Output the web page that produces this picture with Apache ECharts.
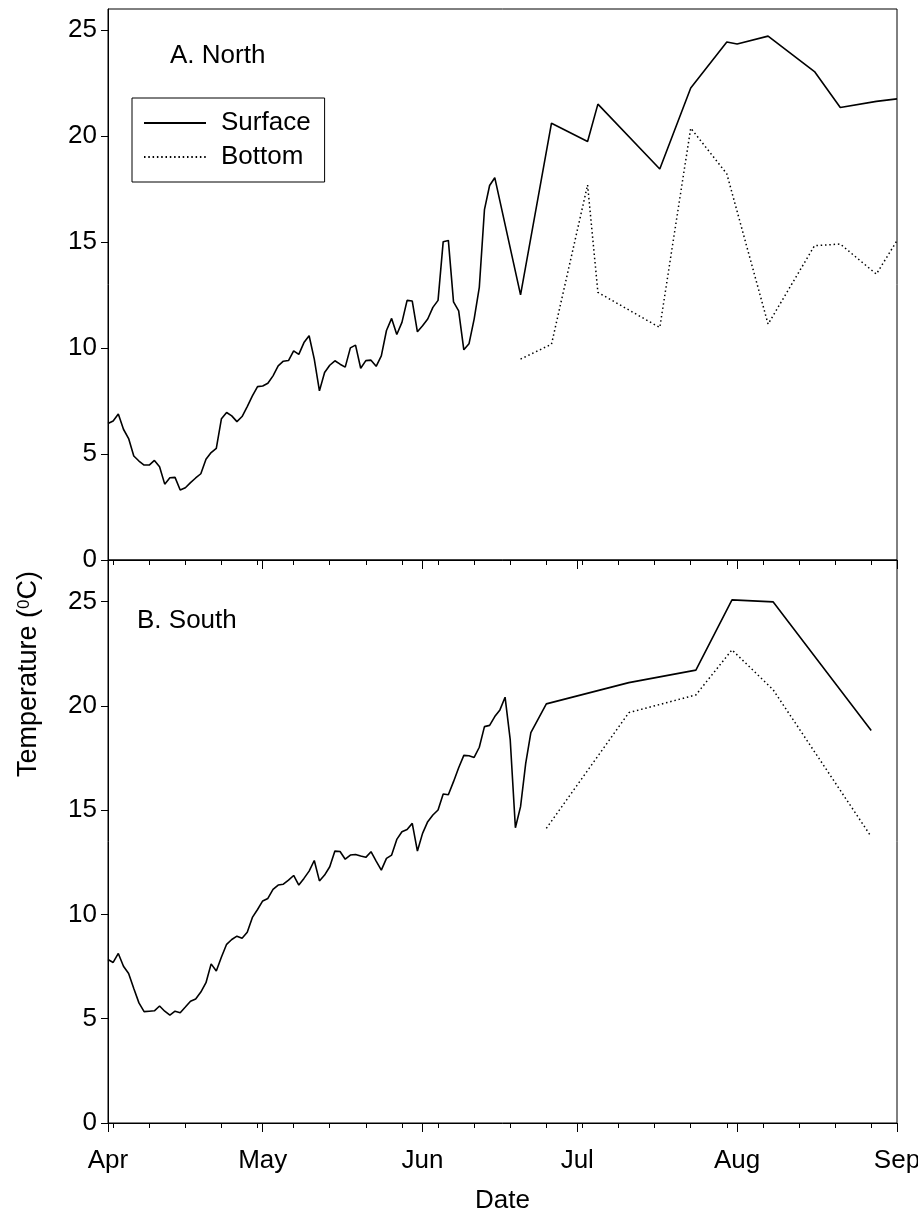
<!DOCTYPE html>
<html>
<head>
<meta charset="utf-8">
<title>Surface and bottom water temperature, North and South</title>
<script src="https://cdn.jsdelivr.net/npm/echarts@6/dist/echarts.min.js"></script>
<style>
  html, body { margin: 0; padding: 0; background: #fff; }
  #chart { width: 918px; height: 1220px; }
</style>
</head>
<body>
<div id="chart"></div>
<script>
// Day numbers count from 1 April (day 0) to 1 September (day 153).
const monthDays = [0, 30, 61, 91, 122, 153];
const monthLabels = ['Apr', 'May', 'Jun', 'Jul', 'Aug', 'Sep'];
const weekDays = [1, 8, 15, 22, 29, 36, 43, 50, 57, 64, 71, 78, 85, 92, 99, 106, 113, 120, 127, 134, 141, 148];
const tempTicks = [0, 5, 10, 15, 20, 25];

// A. North
const northSurfaceDays = [
  0, 1, 2, 3, 4, 5, 6, 7, 8, 9, 10, 11, 12, 13, 14, 15, 16, 17, 18, 19,
  20, 21, 22, 23, 24, 25, 26, 27, 28, 29, 30, 31, 32, 33, 34, 35, 36, 37, 38, 39,
  40, 41, 42, 43, 44, 45, 46, 47, 48, 49, 50, 51, 52, 53, 54, 55, 56, 57, 58, 59,
  60, 61, 62, 63, 64, 65, 66, 67, 68, 69, 70, 71, 72, 73, 74, 75,
  80, 86, 93, 95, 107, 113, 120, 122, 128, 137, 142, 149, 153
];
const northSurfaceTemp = [
  6.44, 6.56, 6.89, 6.17, 5.73, 4.91, 4.67, 4.48, 4.48, 4.70, 4.40, 3.58, 3.88, 3.90, 3.30, 3.41, 3.65, 3.87, 4.07, 4.75,
  5.07, 5.27, 6.67, 6.96, 6.80, 6.53, 6.77, 7.24, 7.74, 8.18, 8.21, 8.34, 8.69, 9.16, 9.38, 9.41, 9.87, 9.70, 10.26, 10.58,
  9.48, 7.98, 8.85, 9.19, 9.40, 9.24, 9.10, 10.01, 10.14, 9.05, 9.41, 9.43, 9.14, 9.63, 10.83, 11.40, 10.64, 11.21, 12.25, 12.22,
  10.77, 11.05, 11.37, 11.92, 12.25, 15.02, 15.08, 12.18, 11.76, 9.92, 10.20, 11.37, 12.86, 16.53, 17.67, 18.04,
  12.51, 20.61, 19.75, 21.51, 18.45, 22.27, 24.44, 24.35, 24.72, 23.05, 21.35, 21.64, 21.76
];
const northBottomDays = [80, 86, 93, 95, 107, 113, 120, 128, 137, 142, 149, 153];
const northBottomTemp = [9.48, 10.18, 17.70, 12.63, 10.97, 20.38, 18.22, 11.13, 14.83, 14.91, 13.49, 15.07];

// B. South
const southSurfaceDays = [
  0, 1, 2, 3, 4, 5, 6, 7, 8, 9, 10, 11, 12, 13, 14, 15, 16, 17, 18, 19,
  20, 21, 22, 23, 24, 25, 26, 27, 28, 29, 30, 31, 32, 33, 34, 35, 36, 37, 38, 39,
  40, 41, 42, 43, 44, 45, 46, 47, 48, 49, 50, 51, 52, 53, 54, 55, 56, 57, 58, 59,
  60, 61, 62, 63, 64, 65, 66, 67, 68, 69, 70, 71, 72, 73, 74, 75, 76, 77, 78, 79,
  80, 81, 82, 85, 101, 114, 121, 129, 148
];
const southSurfaceTemp = [
  7.84, 7.70, 8.13, 7.52, 7.17, 6.45, 5.76, 5.34, 5.36, 5.38, 5.61, 5.36, 5.17, 5.36, 5.29, 5.56, 5.84, 5.95, 6.28, 6.73,
  7.63, 7.29, 7.96, 8.57, 8.80, 8.96, 8.86, 9.15, 9.86, 10.24, 10.65, 10.77, 11.20, 11.41, 11.45, 11.65, 11.87, 11.41, 11.73, 12.08,
  12.59, 11.61, 11.89, 12.29, 13.04, 13.02, 12.65, 12.85, 12.88, 12.80, 12.74, 13.01, 12.56, 12.13, 12.69, 12.85, 13.60, 13.97, 14.08, 14.37,
  13.04, 13.89, 14.45, 14.77, 15.01, 15.78, 15.74, 16.37, 17.04, 17.63, 17.61, 17.53, 18.02, 19.01, 19.07, 19.49, 19.81, 20.42, 18.37, 14.16,
  15.17, 17.25, 18.72, 20.10, 21.12, 21.72, 25.09, 24.99, 18.82
];
const southBottomDays = [85, 101, 114, 121, 129, 148];
const southBottomTemp = [14.13, 19.68, 20.53, 22.69, 20.77, 13.73];

const FONT = 'Liberation Sans, Arial, sans-serif';
const TEXT_SIZE = 26;

function pairs(days, temps) {
  return days.map((d, i) => [d, temps[i]]);
}

const solidLine = { color: '#000', width: 1.6, type: 'solid' };
const dottedLine = { color: '#000', width: 1.5, type: [1.5, 2.8], cap: 'butt' };

function monthAxis(gridIndex, withLabels) {
  return {
    type: 'value', gridIndex, position: 'bottom', min: 0, max: 153,
    axisLine: { show: true, onZero: false, lineStyle: { color: '#000', width: 1 } },
    axisTick: { show: true, inside: false, length: 9, customValues: monthDays, lineStyle: { color: '#000', width: 1 } },
    axisLabel: {
      show: withLabels, customValues: monthDays, margin: 25,
      color: '#000', fontFamily: FONT, fontSize: TEXT_SIZE,
      formatter: v => monthLabels[monthDays.indexOf(v)]
    },
    splitLine: { show: false },
    name: withLabels ? 'Date' : '',
    nameLocation: 'middle', nameGap: 65,
    nameTextStyle: { color: '#000', fontFamily: FONT, fontSize: TEXT_SIZE }
  };
}

function weekAxis(gridIndex) {
  return {
    type: 'value', gridIndex, position: 'bottom', min: 0, max: 153,
    axisLine: { show: false },
    axisTick: { show: true, inside: false, length: 5, customValues: weekDays, lineStyle: { color: '#000', width: 1 } },
    axisLabel: { show: false },
    splitLine: { show: false }
  };
}

function tempAxis(gridIndex, maxTemp) {
  return {
    type: 'value', gridIndex, min: 0, max: maxTemp,
    axisLine: { show: true, onZero: false, lineStyle: { color: '#000', width: 1 } },
    axisTick: { show: true, inside: false, length: 7, customValues: tempTicks, lineStyle: { color: '#000', width: 1 } },
    axisLabel: { customValues: tempTicks, margin: 11, color: '#000', fontFamily: FONT, fontSize: TEXT_SIZE },
    splitLine: { show: false }
  };
}

const chart = echarts.init(document.getElementById('chart'), null, { renderer: 'canvas' });

chart.setOption({
  animation: false,
  backgroundColor: '#fff',
  grid: [
    { left: 108, top: 9, width: 789, height: 551, outerBoundsMode: 'none',
      show: true, borderColor: '#000', borderWidth: 1, backgroundColor: 'transparent' },
    { left: 108, top: 560, width: 789, height: 563, outerBoundsMode: 'none',
      show: true, borderColor: '#000', borderWidth: 1, backgroundColor: 'transparent' }
  ],
  xAxis: [monthAxis(0, false), weekAxis(0), monthAxis(1, true), weekAxis(1)],
  yAxis: [tempAxis(0, 26), tempAxis(1, 27)],
  legend: {
    data: ['Surface', 'Bottom'],
    orient: 'vertical',
    left: 132, top: 98,
    padding: [12, 14, 12, 11],
    itemGap: 8,
    itemWidth: 62, itemHeight: 14,
    borderColor: '#000', borderWidth: 1,
    itemStyle: { opacity: 0 },
    textStyle: { color: '#000', fontFamily: FONT, fontSize: TEXT_SIZE, padding: [0, 0, 0, 10] },
    selectedMode: false
  },
  graphic: [
    { type: 'text', left: 170, top: 43, style: { text: 'A. North', font: TEXT_SIZE + 'px ' + FONT, fill: '#000' } },
    { type: 'text', left: 137, top: 608, style: { text: 'B. South', font: TEXT_SIZE + 'px ' + FONT, fill: '#000' } },
    {
      type: 'text', x: 29, y: 674, rotation: Math.PI / 2,
      style: {
        text: 'Temperature ({sup|0}C)',
        fill: '#000', fontFamily: FONT, fontSize: 27,
        align: 'center', verticalAlign: 'middle',
        rich: { sup: { fontSize: 17, fontFamily: FONT, fill: '#000', verticalAlign: 'top', padding: [0, 0, 10, 0] } }
      }
    }
  ],
  series: [
    { name: 'Surface', type: 'line', xAxisIndex: 0, yAxisIndex: 0, data: pairs(northSurfaceDays, northSurfaceTemp),
      symbol: 'none', lineStyle: solidLine, itemStyle: { color: '#000' } },
    { name: 'Bottom', type: 'line', xAxisIndex: 0, yAxisIndex: 0, data: pairs(northBottomDays, northBottomTemp),
      symbol: 'none', lineStyle: dottedLine, itemStyle: { color: '#000' } },
    { name: 'Surface', type: 'line', xAxisIndex: 2, yAxisIndex: 1, data: pairs(southSurfaceDays, southSurfaceTemp),
      symbol: 'none', lineStyle: solidLine, itemStyle: { color: '#000' } },
    { name: 'Bottom', type: 'line', xAxisIndex: 2, yAxisIndex: 1, data: pairs(southBottomDays, southBottomTemp),
      symbol: 'none', lineStyle: dottedLine, itemStyle: { color: '#000' } }
  ]
});
</script>
</body>
</html>
